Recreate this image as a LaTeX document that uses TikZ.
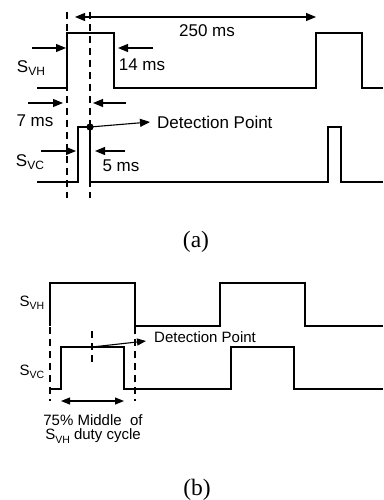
\documentclass[tikz,border=0pt]{standalone}
\usepackage{fontspec}
\setmainfont{Liberation Serif}
\newfontfamily\arial{Liberation Sans}
\usetikzlibrary{arrows.meta}
\newcommand{\sgn}[2]{S\raisebox{-0.22em}{\fontsize{#2}{#2}\selectfont #1}}
\tikzset{
  wave/.style={line width=1.2pt, line join=miter},
  guide/.style={line width=1.1pt, dash pattern=on 7pt off 5pt},
  arr/.style={line width=1.1pt, -{Triangle[length=10pt,width=8pt]}},
  arrs/.style={line width=1.1pt, -{Triangle[length=9pt,width=7pt]}},
  dbl/.style={line width=1.1pt, {Triangle[length=10pt,width=8pt]}-{Triangle[length=10pt,width=8pt]}},
  dbls/.style={line width=1.1pt, {Triangle[length=9pt,width=7pt]}-{Triangle[length=9pt,width=7pt]}},
  lblA/.style={font=\arial\fontsize{17}{17}\selectfont, inner sep=0pt},
  lblB/.style={font=\arial\fontsize{15}{15}\selectfont, inner sep=0pt, align=center},
  captext/.style={font=\fontsize{23.5}{23.5}\selectfont, inner sep=0pt}
}
\begin{document}
\begin{tikzpicture}[x=1pt,y=-1pt]
\useasboundingbox (0,0) rectangle (383,500);
% ---------------- (a) ----------------
\draw[guide] (67,12) -- (67,198);
\draw[guide] (90,12) -- (90,198);
\coordinate (p250a) at (75,17);
\coordinate (p250b) at (316,17);
\draw[dbl] (p250a) -- (p250b);
\node[lblA] (t250) at (207,31) {250 ms};
\draw[wave] (37,88) -- (67,88) -- (67,33) -- (114,33) -- (114,88) -- (316,88) -- (316,33) -- (362,33) -- (362,88) -- (383,88);
\coordinate (a1s) at (32,48); \coordinate (a1e) at (66,48);
\coordinate (a2s) at (153,48); \coordinate (a2e) at (118,48);
\draw[arr] (a1s) -- (a1e);
\draw[arr] (a2s) -- (a2e);
\node[lblA] (t14) at (142,65) {14 ms};
\node[lblA] (svha) at (31,68) {\sgn{VH}{12}};
\coordinate (a3s) at (28,103); \coordinate (a3e) at (63,103);
\coordinate (a4s) at (126,103); \coordinate (a4e) at (93,103);
\draw[arr] (a3s) -- (a3e);
\draw[arr] (a4s) -- (a4e);
\node[lblA] (t7) at (35,121) {7 ms};
\draw[wave] (37,182) -- (78,182) -- (78,127) -- (90,127) -- (90,182) -- (328,182) -- (328,127) -- (341,127) -- (341,182) -- (383,182);
\fill (90,127) circle (3.6pt);
\coordinate (dp) at (90,127);
\node[lblA, anchor=west] (deta) at (157,122) {Detection Point};
\coordinate (detatip) at (150,122);
\draw[arr] (dp) -- (detatip);
\coordinate (a5s) at (41,151); \coordinate (a5e) at (76,151);
\coordinate (a6s) at (125,151); \coordinate (a6e) at (95,151);
\draw[arr] (a5s) -- (a5e);
\draw[arr] (a6s) -- (a6e);
\node[lblA] (t5) at (121,166) {5 ms};
\node[lblA] (svca) at (30,162) {\sgn{VC}{12}};
\node[captext] (capa) at (196,242) {(a)};
% ---------------- (b) ----------------
\draw[wave] (50,326) -- (50,283) -- (135,283) -- (135,326) -- (220,326) -- (220,283) -- (305,283) -- (305,326) -- (383,326);
\draw[guide] (50,327) -- (50,401);
\draw[guide] (135,327) -- (135,401);
\draw[wave] (50,389) -- (61,389) -- (61,347) -- (124,347) -- (124,389) -- (231,389) -- (231,347) -- (294,347) -- (294,389) -- (383,389);
\draw[guide] (92,331) -- (92,363);
\coordinate (dpb) at (92,347);
\node[lblB, anchor=west] (detb) at (154,337) {Detection Point};
\coordinate (detbtip) at (146,341);
\draw[arrs] (dpb) -- (detbtip);
\coordinate (m1) at (61,401); \coordinate (m2) at (124,401);
\draw[dbls] (m1) -- (m2);
\node[lblB] (mid1) at (93,420) {75\% Middle\ \ of};
\node[lblB] (mid2) at (93,436) {\sgn{VH}{10.5} duty cycle};
\node[lblB] (svhb) at (32,303) {\sgn{VH}{10.5}};
\node[lblB] (svcb) at (32,372) {\sgn{VC}{10.5}};
\node[captext] (capb) at (197,490) {(b)};
\end{tikzpicture}
\end{document}
